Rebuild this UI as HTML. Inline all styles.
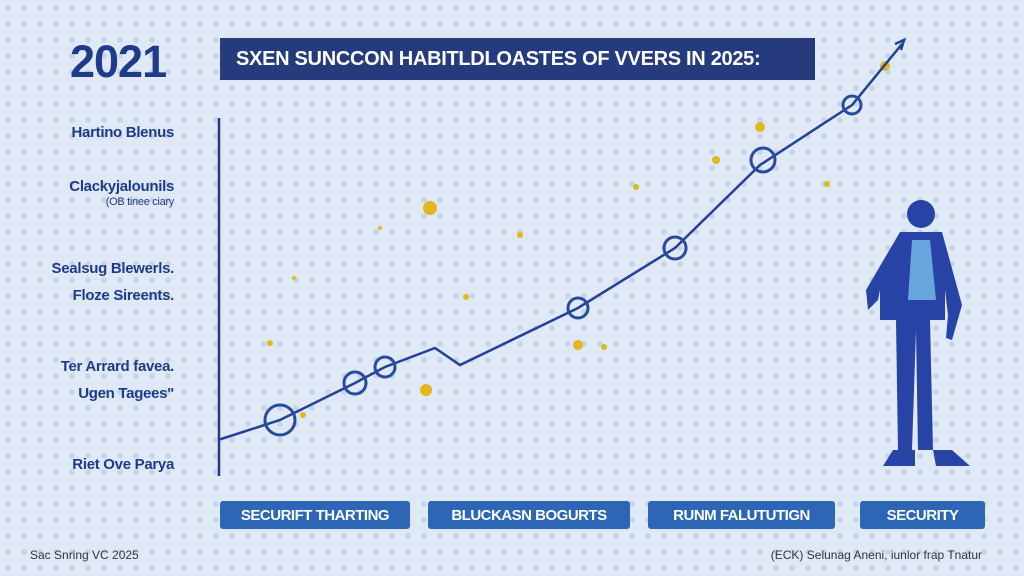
<!DOCTYPE html>
<html><head><meta charset="utf-8"><style>
body{margin:0;width:1024px;height:576px;overflow:hidden;font-family:"Liberation Sans",sans-serif;
background-color:#dfe9f5;
background-image:radial-gradient(circle,#c6d6ea 2.6px,transparent 3px);
background-size:16px 16px;position:relative}
.t{position:absolute;color:#1f3a8a;font-weight:bold}
.lab{position:absolute;right:850px;text-align:right;color:#1f3a8a;font-size:15px;font-weight:bold;white-space:nowrap;letter-spacing:-0.3px}
.btn{position:absolute;top:501px;height:28px;background:#2d66b5;border-radius:3px;color:#fff;font-weight:bold;font-size:15px;display:flex;align-items:center;justify-content:center;letter-spacing:-0.5px}
</style></head><body>
<div class="t" style="left:70px;top:36px;font-size:45px;letter-spacing:-1px">2021</div>
<div style="position:absolute;left:220px;top:38px;width:595px;height:42px;background:#253b7e;color:#fff;font-weight:bold;font-size:20px;line-height:42px;padding-left:16px;box-sizing:border-box;white-space:nowrap;letter-spacing:-0.3px">SXEN SUNCCON HABITLDLOASTES OF VVERS IN 2025:</div>
<div class="lab" style="top:124px">Hartino Blenus</div>
<div class="lab" style="top:178px">Clackyjalounils</div>
<div class="lab" style="top:196px;font-size:11px;font-weight:normal">(OB tinee ciary</div>
<div class="lab" style="top:260px">Sealsug Blewerls.</div>
<div class="lab" style="top:287px">Floze Sireents.</div>
<div class="lab" style="top:358px">Ter Arrard favea.</div>
<div class="lab" style="top:385px">Ugen Tagees"</div>
<div class="lab" style="top:456px">Riet Ove Parya</div>
<svg width="1024" height="576" style="position:absolute;left:0;top:0">
<line x1="219" y1="118" x2="219" y2="476" stroke="#253b7e" stroke-width="2.5"/>
<g fill="#e2b81e">
<circle cx="430" cy="208" r="7"/><circle cx="885" cy="66" r="5"/><circle cx="426" cy="390" r="6"/>
<circle cx="636" cy="187" r="3"/><circle cx="827" cy="184" r="3"/><circle cx="520" cy="235" r="3"/>
<circle cx="270" cy="343" r="3"/><circle cx="303" cy="415" r="3"/><circle cx="604" cy="347" r="3"/>
<circle cx="578" cy="345" r="5"/><circle cx="760" cy="127" r="5"/><circle cx="716" cy="160" r="4"/>
<circle cx="466" cy="297" r="3"/><circle cx="380" cy="228" r="2"/><circle cx="294" cy="278" r="2"/>
</g>
<polyline points="218,440 280,420 355,383 385,367 435,348 460,365 578,308 675,248 760,165 852,105 902,44" fill="none" stroke="#23409a" stroke-width="2.5"/>
<path d="M895 44 L904 40 L901 50" fill="none" stroke="#23409a" stroke-width="2.5"/>
<g fill="none" stroke="#2a4aa0" stroke-width="3">
<circle cx="280" cy="420" r="15"/><circle cx="355" cy="383" r="11"/><circle cx="385" cy="367" r="10"/>
<circle cx="578" cy="308" r="10"/><circle cx="675" cy="248" r="11"/><circle cx="763" cy="160" r="12"/><circle cx="852" cy="105" r="9"/>
</g>
<g fill="#2843a6">
<circle cx="921" cy="214" r="14"/>
<path d="M900 232 L942 232 L962 305 L952 340 L946 338 L948 315 L945 290 L945 320 L930 320 L933 450 L918 450 L916 330 L912 450 L898 450 L896 320 L880 320 L880 290 L878 300 L868 310 L866 290 Z"/>
<path d="M893 450 L915 450 L915 466 L883 466 Z M933 450 L952 450 L970 466 L936 466 Z"/>
</g>
<path d="M912 240 L930 240 L936 300 L908 300 Z" fill="#6aa6de"/>
</svg>
<div class="btn" style="left:220px;width:190px">SECURIFT THARTING</div>
<div class="btn" style="left:428px;width:202px">BLUCKASN BOGURTS</div>
<div class="btn" style="left:648px;width:187px">RUNM FALUTUTIGN</div>
<div class="btn" style="left:860px;width:125px">SECURITY</div>
<div style="position:absolute;left:30px;top:548px;font-size:12px;color:#333">Sac Snring VC 2025</div>
<div style="position:absolute;right:42px;top:548px;font-size:12px;color:#333">(ECK) Selunag Aneni, iunlor frap Tnatur</div>
</body></html>
